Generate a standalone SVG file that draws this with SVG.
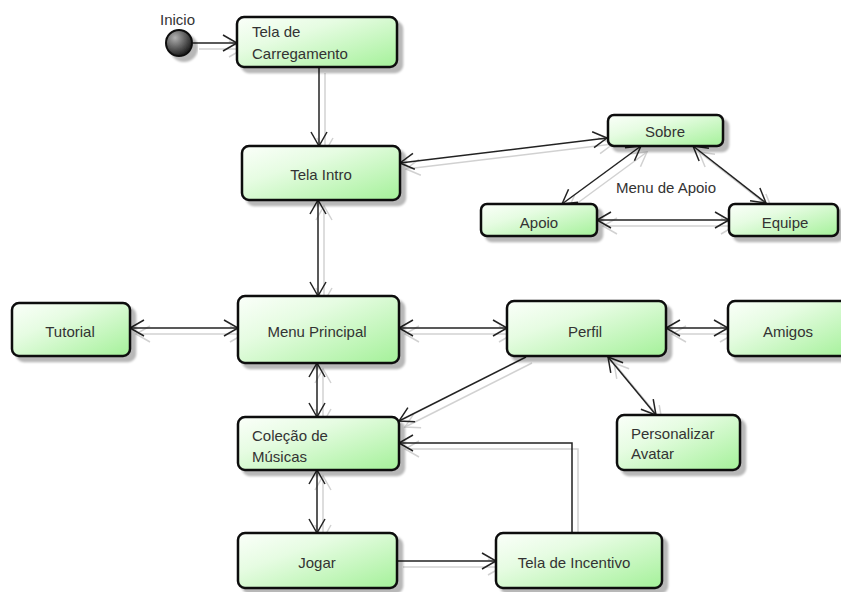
<svg xmlns="http://www.w3.org/2000/svg" width="841" height="592" viewBox="0 0 841 592">
<defs>
  <linearGradient id="g" x1="0" y1="0" x2="1" y2="1">
    <stop offset="0" stop-color="#fbfffa"/>
    <stop offset="0.35" stop-color="#e6fce2"/>
    <stop offset="1" stop-color="#a4f199"/>
  </linearGradient>
  <radialGradient id="sg" cx="0.35" cy="0.3" r="0.75">
    <stop offset="0" stop-color="#b0b0b0"/>
    <stop offset="1" stop-color="#151515"/>
  </radialGradient>
  <filter id="ns" x="-10%" y="-10%" width="130%" height="140%">
    <feGaussianBlur in="SourceAlpha" stdDeviation="1"/>
    <feOffset dx="5" dy="5" result="o"/>
    <feFlood flood-color="#000" flood-opacity="0.28"/>
    <feComposite in2="o" operator="in"/>
    <feMerge><feMergeNode/><feMergeNode in="SourceGraphic"/></feMerge>
  </filter>
  <filter id="cs" x="-5%" y="-5%" width="115%" height="115%">
    <feOffset in="SourceAlpha" dx="6" dy="6" result="o"/>
    <feFlood flood-color="#000" flood-opacity="0.18"/>
    <feComposite in2="o" operator="in"/>
    <feMerge><feMergeNode/><feMergeNode in="SourceGraphic"/></feMerge>
  </filter>
  <marker id="a" viewBox="-1 -10 17 20" refX="14" refY="0" markerWidth="17" markerHeight="20" markerUnits="userSpaceOnUse" orient="auto-start-reverse">
    <path d="M0,-8 L14,0 L0,8" fill="none" stroke="#222" stroke-width="1.5"/>
  </marker>
</defs>
<style>
  .n { fill: url(#g); stroke: #111; stroke-width: 2.5; filter: url(#ns); }
  .t { font-family: "Liberation Sans", Arial, sans-serif; font-size: 15px; fill: #333; }
  .c { text-anchor: middle; }
  .e { fill: none; stroke: #222; stroke-width: 1.5; }
  .b { marker-start: url(#a); marker-end: url(#a); }
  .f { marker-end: url(#a); }
</style>
<g id="connectors" filter="url(#cs)">
  <path class="e f" d="M193,43 L237,43"/>
  <path class="e f" d="M319,67 L319,146"/>
  <path class="e b" d="M400,163 L607,138"/>
  <path class="e b" d="M641,146 L562,204"/>
  <path class="e b" d="M693,146 L766,203"/>
  <path class="e b" d="M597,220 L729,220"/>
  <path class="e b" d="M318,200 L318,296"/>
  <path class="e b" d="M130,328 L238,328"/>
  <path class="e b" d="M399,328 L507,328"/>
  <path class="e b" d="M666,328 L728,328"/>
  <path class="e f" d="M526,357 L399,421"/>
  <path class="e b" d="M608,357 L656,415"/>
  <path class="e b" d="M317,363 L317,417"/>
  <path class="e b" d="M317,470 L317,533"/>
  <path class="e f" d="M397,561 L496,561"/>
  <path class="e f" d="M572,533 L572,443 L399,443"/>
</g>
<g id="start">
  <circle cx="179" cy="43" r="13" fill="url(#sg)" stroke="#111" stroke-width="2" filter="url(#ns)"/>
  <text class="t" x="160" y="25">Inicio</text>
</g>
<g id="tela-carregamento">
  <rect class="n" x="237" y="17" width="160" height="50" rx="7"/>
  <text class="t" x="252" y="37">Tela de</text>
  <text class="t" x="252" y="59">Carregamento</text>
</g>
<g id="tela-intro">
  <rect class="n" x="242" y="146" width="158" height="54" rx="7"/>
  <text class="t c" x="321" y="180">Tela Intro</text>
</g>
<g id="sobre">
  <rect class="n" x="608" y="115" width="115" height="31" rx="6"/>
  <text class="t c" x="665" y="137">Sobre</text>
</g>
<g id="apoio">
  <rect class="n" x="481" y="204" width="116" height="32" rx="6"/>
  <text class="t c" x="539" y="228">Apoio</text>
</g>
<g id="equipe">
  <rect class="n" x="729" y="204" width="109" height="32" rx="6"/>
  <text class="t c" x="785" y="228">Equipe</text>
</g>
<g id="menu-apoio-label">
  <text class="t c" x="666" y="193">Menu de Apoio</text>
</g>
<g id="tutorial">
  <rect class="n" x="12" y="303" width="118" height="53" rx="7"/>
  <text class="t c" x="70" y="337">Tutorial</text>
</g>
<g id="menu-principal">
  <rect class="n" x="238" y="296" width="161" height="67" rx="7"/>
  <text class="t c" x="317" y="337">Menu Principal</text>
</g>
<g id="perfil">
  <rect class="n" x="507" y="301" width="159" height="55" rx="7"/>
  <text class="t c" x="585" y="337">Perfil</text>
</g>
<g id="amigos">
  <rect class="n" x="728" y="301" width="122" height="55" rx="7"/>
  <text class="t c" x="788" y="337">Amigos</text>
</g>
<g id="colecao">
  <rect class="n" x="238" y="417" width="161" height="53" rx="7"/>
  <text class="t" x="252" y="441">Coleção de</text>
  <text class="t" x="252" y="462">Músicas</text>
</g>
<g id="personalizar">
  <rect class="n" x="617" y="415" width="123" height="55" rx="7"/>
  <text class="t" x="631" y="439">Personalizar</text>
  <text class="t" x="631" y="459">Avatar</text>
</g>
<g id="jogar">
  <rect class="n" x="238" y="533" width="159" height="55" rx="7"/>
  <text class="t c" x="317" y="568">Jogar</text>
</g>
<g id="tela-incentivo">
  <rect class="n" x="496" y="533" width="166" height="55" rx="7"/>
  <text class="t c" x="574" y="568">Tela de Incentivo</text>
</g>
</svg>
